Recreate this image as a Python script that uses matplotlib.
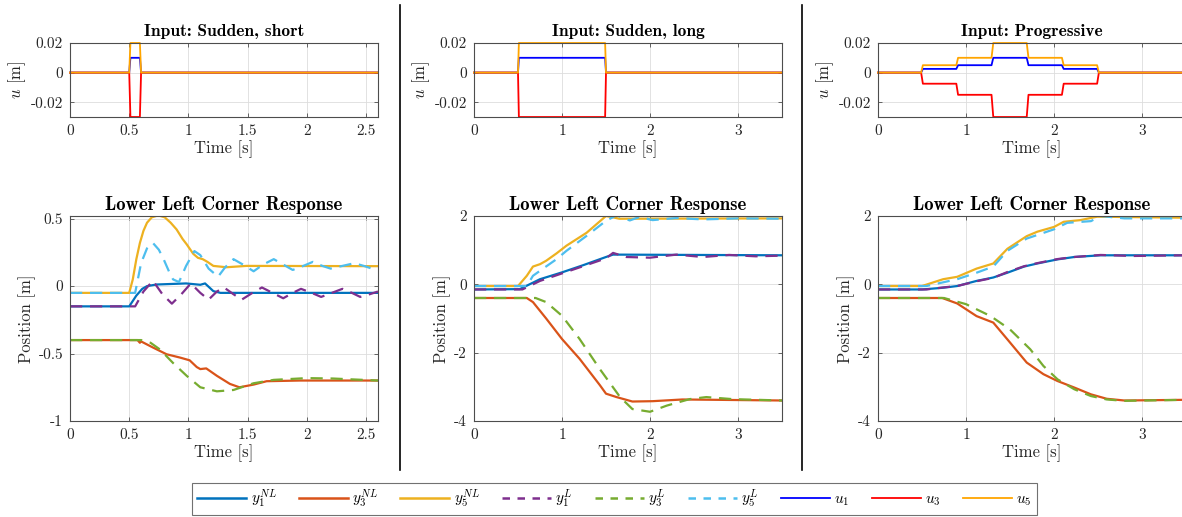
import numpy as np
import matplotlib
matplotlib.use("Agg")
import matplotlib.pyplot as plt
from matplotlib.lines import Line2D

plt.rcParams['font.family'] = ['cmr10', 'DejaVu Serif']
plt.rcParams['mathtext.fontset'] = 'cm'
plt.rcParams['axes.unicode_minus'] = False
plt.rcParams['axes.formatter.use_mathtext'] = False

# colours (MATLAB defaults)
C_Y1 = '#0072BD'
C_Y3 = '#D95319'
C_Y5 = '#EDB120'
C_Y1L = '#7E2F8E'
C_Y3L = '#77AC30'
C_Y5L = '#4DBEEE'
C_U1 = '#0000FF'
C_U3 = '#FF0000'
C_U5 = '#FFA500'

# ---------------- input signals ----------------
in_titles = ["Input: Sudden, short", "Input: Sudden, long", "Input: Progressive"]
t_end = [2.6, 3.5, 3.5]

t_in_short = [0, 0.5, 0.51, 0.59, 0.6, 2.6]
u1_short = [0, 0, 0.01, 0.01, 0, 0]
u3_short = [0, 0, -0.03, -0.03, 0, 0]
u5_short = [0, 0, 0.02, 0.02, 0, 0]

t_in_long = [0, 0.5, 0.51, 1.49, 1.5, 3.5]
u1_long = [0, 0, 0.01, 0.01, 0, 0]
u3_long = [0, 0, -0.03, -0.03, 0, 0]
u5_long = [0, 0, 0.02, 0.02, 0, 0]

t_in_prog = [0, 0.49, 0.51, 0.89, 0.91, 1.29, 1.31, 1.69, 1.71, 2.09, 2.11, 2.49, 2.51, 3.5]
u1_prog = [0, 0, 0.0025, 0.0025, 0.005, 0.005, 0.01, 0.01, 0.005, 0.005, 0.0025, 0.0025, 0, 0]
u3_prog = [0, 0, -0.0075, -0.0075, -0.015, -0.015, -0.03, -0.03, -0.015, -0.015, -0.0075, -0.0075, 0, 0]
u5_prog = [0, 0, 0.005, 0.005, 0.01, 0.01, 0.02, 0.02, 0.01, 0.01, 0.005, 0.005, 0, 0]

# ---------------- responses: sudden, short ----------------
ta_y5 = [0, 0.5, 0.53, 0.56, 0.59, 0.62, 0.65, 0.69, 0.745, 0.8, 0.85, 0.9, 0.95, 0.985, 1.04, 1.08, 1.12, 1.16, 1.21, 1.32, 1.49, 2.6]
a_y5 = [-0.05, -0.05, 0.05, 0.2, 0.32, 0.41, 0.47, 0.51, 0.525, 0.51, 0.47, 0.42, 0.35, 0.31, 0.24, 0.21, 0.2, 0.18, 0.15, 0.14, 0.15, 0.148]
ta_y5L = [0, 0.55, 0.6, 0.65, 0.70, 0.75, 0.79, 0.84, 0.87, 0.92, 0.98, 1.05, 1.1, 1.17, 1.25, 1.31, 1.38, 1.46, 1.55, 1.63, 1.72, 1.8, 1.88, 1.97, 2.05, 2.13, 2.2, 2.3, 2.4, 2.48, 2.55, 2.6]
a_y5L = [-0.05, -0.05, 0.17, 0.28, 0.32, 0.27, 0.2, 0.1, 0.05, 0.03, 0.15, 0.26, 0.23, 0.13, 0.07, 0.14, 0.2, 0.16, 0.11, 0.16, 0.2, 0.16, 0.12, 0.15, 0.18, 0.15, 0.13, 0.15, 0.17, 0.15, 0.13, 0.14]
ta_y1 = [0, 0.5, 0.56, 0.61, 0.65, 0.73, 0.98, 1.1, 1.14, 1.21, 1.27, 2.6]
a_y1 = [-0.15, -0.15, -0.07, -0.02, 0.0, 0.012, 0.02, 0.01, 0.02, -0.037, -0.05, -0.05]
ta_y1L = [0, 0.55, 0.62, 0.70, 0.78, 0.86, 0.94, 1.02, 1.1, 1.17, 1.24, 1.3, 1.38, 1.45, 1.54, 1.62, 1.71, 1.8, 1.88, 1.95, 2.04, 2.12, 2.21, 2.3, 2.38, 2.45, 2.53, 2.6]
a_y1L = [-0.15, -0.15, -0.04, 0.04, -0.06, -0.13, -0.06, 0.02, -0.05, -0.1, -0.04, -0.01, -0.06, -0.1, -0.05, -0.01, -0.05, -0.09, -0.05, -0.02, -0.05, -0.08, -0.05, -0.02, -0.05, -0.08, -0.06, -0.04]
ta_y3 = [0, 0.57, 0.59, 0.6, 0.70, 0.815, 0.93, 1.01, 1.07, 1.1, 1.15, 1.24, 1.35, 1.43, 1.55, 1.66, 1.94, 2.6]
a_y3 = [-0.4, -0.4, -0.42, -0.41, -0.455, -0.505, -0.53, -0.55, -0.6, -0.615, -0.61, -0.665, -0.725, -0.75, -0.73, -0.705, -0.7, -0.7]
ta_y3L = [0, 0.6, 0.68, 0.76, 0.87, 0.985, 1.1, 1.24, 1.38, 1.55, 1.72, 2.0, 2.22, 2.6]
a_y3L = [-0.4, -0.4, -0.42, -0.47, -0.57, -0.665, -0.75, -0.78, -0.77, -0.72, -0.695, -0.682, -0.685, -0.7]

# ---------------- responses: sudden, long ----------------
tb_y5 = [0, 0.5, 0.6, 0.67, 0.75, 0.82, 0.94, 1.05, 1.28, 1.5, 1.58, 1.65, 3.5]
b_y5 = [-0.05, -0.05, 0.25, 0.52, 0.59, 0.69, 0.91, 1.13, 1.51, 2.0, 1.96, 1.92, 1.93]
tb_y5L = [0, 0.6, 0.67, 0.79, 0.94, 1.05, 1.28, 1.5, 1.62, 1.77, 1.88, 2.03, 2.3, 2.6, 3.0, 3.5]
b_y5L = [-0.05, -0.05, 0.25, 0.47, 0.74, 0.98, 1.42, 1.86, 2.02, 1.87, 1.97, 1.88, 1.94, 1.9, 1.93, 1.92]
tb_y1 = [0, 0.52, 0.75, 1.0, 1.24, 1.5, 1.58, 3.5]
b_y1 = [-0.15, -0.14, 0.15, 0.35, 0.56, 0.8, 0.87, 0.85]
tb_y1L = [0, 0.55, 0.75, 1.0, 1.5, 1.58, 1.73, 2.0, 2.3, 2.6, 2.9, 3.2, 3.5]
b_y1L = [-0.15, -0.15, 0.1, 0.32, 0.76, 0.92, 0.8, 0.78, 0.87, 0.8, 0.86, 0.82, 0.84]
tb_y3 = [0, 0.6, 0.67, 0.82, 1.0, 1.2, 1.43, 1.5, 1.62, 1.8, 2.03, 2.37, 3.5]
b_y3 = [-0.4, -0.4, -0.52, -1.0, -1.6, -2.18, -2.95, -3.2, -3.3, -3.43, -3.42, -3.37, -3.4]
tb_y3L = [0, 0.7, 0.82, 1.0, 1.2, 1.43, 1.66, 1.8, 2.0, 2.19, 2.45, 2.64, 2.94, 3.5]
b_y3L = [-0.4, -0.4, -0.52, -0.92, -1.6, -2.48, -3.3, -3.65, -3.73, -3.55, -3.36, -3.3, -3.36, -3.4]

# ---------------- responses: progressive ----------------
tc_y5 = [0, 0.5, 0.74, 0.9, 1.12, 1.31, 1.47, 1.69, 1.81, 2.0, 2.11, 2.3, 2.49, 3.5]
c_y5 = [-0.05, -0.05, 0.15, 0.22, 0.46, 0.61, 1.04, 1.41, 1.54, 1.68, 1.83, 1.88, 1.98, 1.95]
tc_y5L = [0, 0.55, 0.9, 1.12, 1.31, 1.47, 1.69, 2.0, 2.15, 2.42, 2.53, 2.8, 3.5]
c_y5L = [-0.05, -0.05, 0.15, 0.34, 0.52, 0.98, 1.34, 1.61, 1.8, 1.85, 2.0, 1.93, 1.93]
tc_y1 = [0, 0.5, 0.74, 0.9, 1.12, 1.31, 1.47, 1.66, 1.81, 2.04, 2.23, 2.53, 3.5]
c_y1 = [-0.15, -0.15, -0.1, -0.05, 0.1, 0.2, 0.34, 0.52, 0.61, 0.73, 0.8, 0.85, 0.85]
tc_y1L = [0, 0.55, 0.74, 0.9, 1.12, 1.31, 1.47, 1.66, 1.81, 2.04, 2.23, 2.53, 2.9, 3.5]
c_y1L = [-0.15, -0.15, -0.09, -0.05, 0.09, 0.19, 0.36, 0.53, 0.62, 0.74, 0.8, 0.86, 0.83, 0.85]
tc_y3 = [0, 0.73, 0.9, 1.12, 1.31, 1.47, 1.69, 1.88, 2.04, 2.23, 2.42, 2.6, 2.8, 3.5]
c_y3 = [-0.4, -0.4, -0.56, -0.93, -1.12, -1.61, -2.29, -2.63, -2.83, -3.02, -3.22, -3.35, -3.4, -3.38]
tc_y3L = [0, 0.75, 1.0, 1.28, 1.5, 1.73, 1.88, 2.04, 2.23, 2.42, 2.6, 2.8, 3.5]
c_y3L = [-0.4, -0.4, -0.58, -0.93, -1.32, -1.9, -2.39, -2.78, -3.07, -3.27, -3.37, -3.41, -3.38]

inputs = [
    (t_in_short, u1_short, u3_short, u5_short),
    (t_in_long, u1_long, u3_long, u5_long),
    (t_in_prog, u1_prog, u3_prog, u5_prog),
]
responses = [
    [(ta_y1, a_y1), (ta_y3, a_y3), (ta_y5, a_y5), (ta_y1L, a_y1L), (ta_y3L, a_y3L), (ta_y5L, a_y5L)],
    [(tb_y1, b_y1), (tb_y3, b_y3), (tb_y5, b_y5), (tb_y1L, b_y1L), (tb_y3L, b_y3L), (tb_y5L, b_y5L)],
    [(tc_y1, c_y1), (tc_y3, c_y3), (tc_y5, c_y5), (tc_y1L, c_y1L), (tc_y3L, c_y3L), (tc_y5L, c_y5L)],
]

x_ticks = [[0, 0.5, 1, 1.5, 2, 2.5], [0, 1, 2, 3], [0, 1, 2, 3]]
x_ticklabels = [["0", "0.5", "1", "1.5", "2", "2.5"], ["0", "1", "2", "3"], ["0", "1", "2", "3"]]
u_ticks = [-0.02, 0, 0.02]
u_ticklabels = ["-0.02", "0", "0.02"]
r_ylims = [(-1, 0.52), (-4, 2), (-4, 2)]
r_ticks = [[-1, -0.5, 0, 0.5], [-4, -2, 0, 2], [-4, -2, 0, 2]]
r_ticklabels = [["-1", "-0.5", "0", "0.5"], ["-4", "-2", "0", "2"], ["-4", "-2", "0", "2"]]

resp_colors = [C_Y1, C_Y3, C_Y5, C_Y1L, C_Y3L, C_Y5L]
resp_labels = [r'$y_1^{NL}$', r'$y_3^{NL}$', r'$y_5^{NL}$', r'$y_1^{L}$', r'$y_3^{L}$', r'$y_5^{L}$']
u_colors = [C_U1, C_U3, C_U5]
u_labels = [r'$u_1$', r'$u_3$', r'$u_5$']

W, H = 1182, 517
fig = plt.figure(figsize=(W / 100, H / 100), dpi=100)

lefts = [70, 474, 878]
aw = 308
dash = (5.5, 3.5)


def style_axes(ax):
    ax.grid(True, color='#dddddd', lw=0.6)
    ax.set_axisbelow(True)
    for s in ax.spines.values():
        s.set_color('#4d4d4d')
        s.set_linewidth(0.8)
    ax.tick_params(direction='in', length=3, width=0.6, color='#4d4d4d',
                   labelsize=11, labelcolor='#262626', top=True, right=True, pad=5)


for i in range(3):
    # input panel
    ax = fig.add_axes([lefts[i] / W, 1 - 117 / H, aw / W, 74 / H])
    t, u1, u3, u5 = inputs[i]
    ax.plot(t, u1, color=u_colors[0], lw=1.3, clip_on=False)
    ax.plot(t, u3, color=u_colors[1], lw=1.3, clip_on=False)
    ax.plot(t, u5, color=u_colors[2], lw=1.3, clip_on=False)
    ax.set_xlim(0, t_end[i])
    ax.set_ylim(-0.03, 0.02)
    ax.set_xticks(x_ticks[i])
    ax.set_xticklabels(x_ticklabels[i])
    ax.set_yticks(u_ticks)
    ax.set_yticklabels(u_ticklabels)
    style_axes(ax)
    ax.set_title(in_titles[i], fontfamily='cmb10', fontsize=12.5, pad=5)
    ax.set_xlabel('Time [s]', fontsize=12, labelpad=2, color='#262626')
    ax.set_ylabel(r'$u$ [m]', fontsize=12, labelpad=2, color='#262626')

    # response panel
    ax = fig.add_axes([lefts[i] / W, 1 - 421 / H, aw / W, 205 / H])
    for k, (tt, yy) in enumerate(responses[i]):
        if k < 3:
            ax.plot(tt, yy, color=resp_colors[k], lw=1.6)
        else:
            ax.plot(tt, yy, color=resp_colors[k], lw=1.6, ls=(0, dash))
    ax.set_xlim(0, t_end[i])
    ax.set_ylim(*r_ylims[i])
    ax.set_xticks(x_ticks[i])
    ax.set_xticklabels(x_ticklabels[i])
    ax.set_yticks(r_ticks[i])
    ax.set_yticklabels(r_ticklabels[i])
    style_axes(ax)
    ax.set_title('Lower Left Corner Response', fontfamily='cmb10', fontsize=13.5, pad=4)
    ax.set_xlabel('Time [s]', fontsize=12, labelpad=2, color='#262626')
    ax.set_ylabel('Position [m]', fontsize=12, labelpad=2, color='#262626')

# separators between columns
for xs in [400, 802]:
    fig.add_artist(Line2D([xs / W, xs / W], [1 - 5 / H, 1 - 470 / H], color='black', lw=1.2))

# legend
handles = []
for k in range(6):
    handles.append(Line2D([], [], color=resp_colors[k], lw=1.8, ls='-' if k < 3 else (0, (3, 3))))
for k in range(3):
    handles.append(Line2D([], [], color=u_colors[k], lw=1.3))
leg = fig.legend(handles, resp_labels + u_labels, loc='center', ncol=9,
                 bbox_to_anchor=(614.5 / W, 1 - 499 / H), fontsize=11,
                 handlelength=3.2, handletextpad=0.3, columnspacing=1.45,
                 frameon=True, fancybox=False, borderpad=0.3)
leg.get_frame().set_edgecolor('#4d4d4d')
leg.get_frame().set_linewidth(0.8)

fig.savefig('out.png', dpi=100)
